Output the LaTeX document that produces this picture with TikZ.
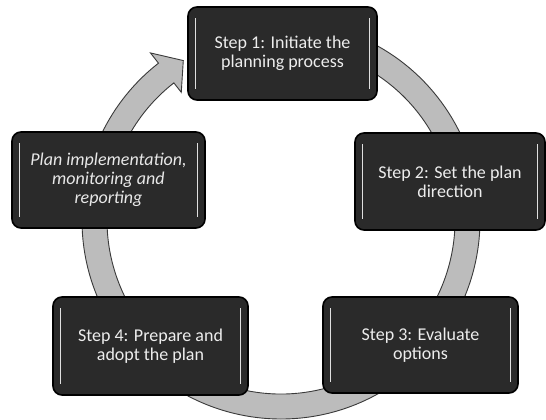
\documentclass[tikz,border=0pt]{standalone}
\usepackage{fontspec}
\newfontfamily\calib{Carlito}
\definecolor{bandfill}{HTML}{BCBCBC}
\definecolor{bandline}{HTML}{3A3A3A}
\definecolor{boxfill}{HTML}{2A2A2A}
\definecolor{boxtext}{HTML}{EDEDED}
\tikzset{
  stepbox/.style={draw=black, line width=1.6pt, fill=boxfill, rounded corners=9pt,
    inner sep=0pt, align=center, text=boxtext,
    font=\calib\fontsize{18}{19}\selectfont},
  bevel/.style={draw=white!75!gray, line width=0.9pt},
  band/.style={fill=bandfill, draw=bandline, line width=0.9pt, line join=miter}
}
\begin{document}
\begin{tikzpicture}[x=1pt,y=1pt]
\useasboundingbox (0,0) rectangle (546,420);
\fill[white] (0,0) rectangle (546,420);
% ring band with arrowhead
\begin{scope}[shift={(281,200)}]
  \path[band] (128:199) arc[start angle=128,end angle=470,radius=199pt]
    -- (470:174) arc[start angle=470,end angle=128,radius=174pt]
    -- (128:162) -- (121.5:187) -- (128:212) -- cycle;
\end{scope}
% boxes
\node[stepbox, minimum width=189pt, minimum height=93pt] (b1) at (282.5,366.5)
  {Step 1: Initiate the\\planning process};
\node[stepbox, minimum width=190pt, minimum height=97pt] (b2) at (450,238.5)
  {Step 2: Set the plan\\direction};
\node[stepbox, minimum width=195pt, minimum height=96pt] (b3) at (420.5,75)
  {Step 3: Evaluate\\options};
\node[stepbox, minimum width=195pt, minimum height=98pt] (b4) at (150.5,74)
  {Step 4: Prepare and\\adopt the plan};
\node[stepbox, minimum width=193pt, minimum height=96pt, text=white!82!gray,
  font=\calib\itshape\fontsize{18}{19}\selectfont] (b5) at (108.5,240)
  {Plan implementation,\\monitoring and\\reporting};
% bevel highlights
\foreach \b in {b1,b2,b3,b4,b5}{
  \draw[bevel] ([xshift=8pt,yshift=12pt]\b.south west) -- ([xshift=8pt,yshift=-12pt]\b.north west);
  \draw[bevel] ([xshift=-8pt,yshift=12pt]\b.south east) -- ([xshift=-8pt,yshift=-12pt]\b.north east);
}
\end{tikzpicture}
\end{document}
